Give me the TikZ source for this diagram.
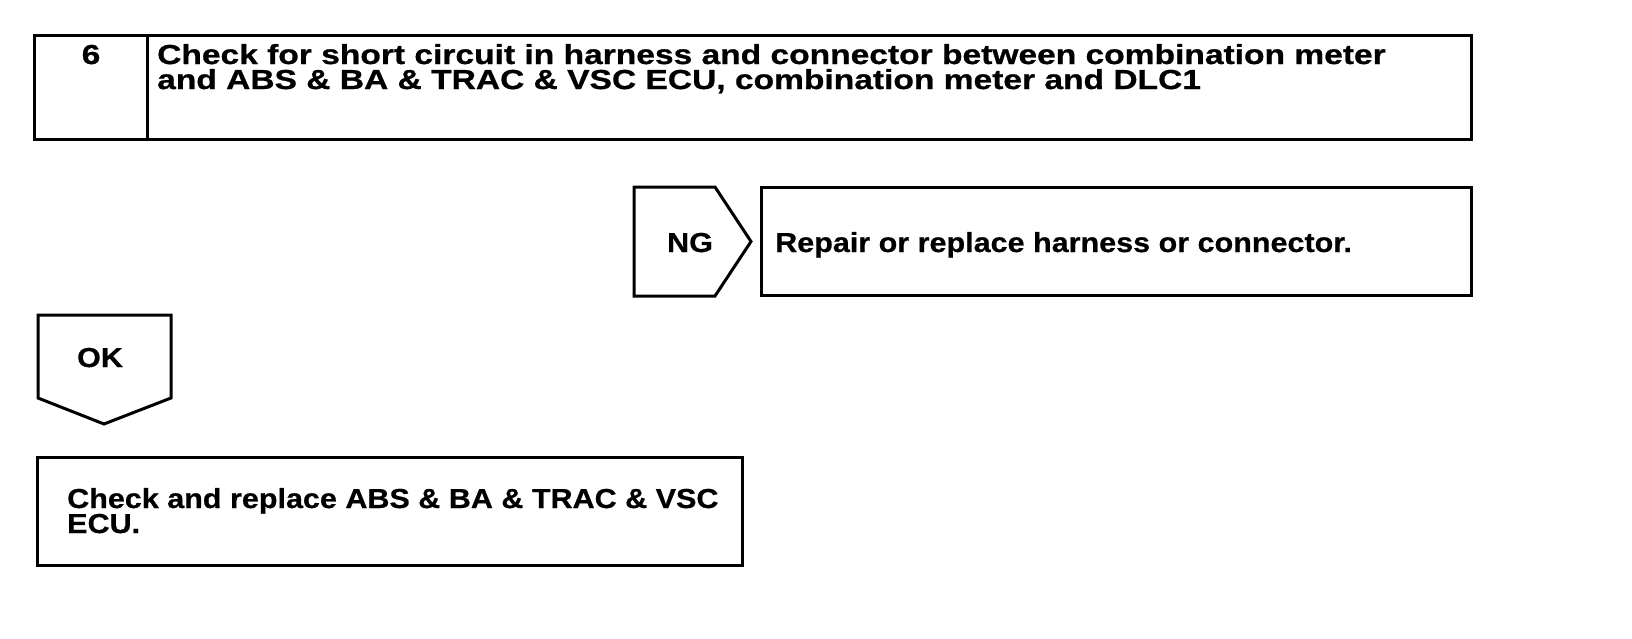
\documentclass[tikz,border=0pt]{standalone}
\usepackage{fontspec}
\setmainfont{Liberation Sans}
\newfontfamily\titlefnt[FakeStretch=1.22,FakeBold=0.8]{Liberation Sans Bold}
\newfontfamily\bodyfnt[FakeStretch=1.11,FakeBold=0.6]{Liberation Sans Bold}
\begin{document}
\begin{tikzpicture}[x=1pt,y=-1pt,
  box/.style={draw=black,line width=3pt,line join=miter},
  ttl/.style={font=\titlefnt\fontsize{27.5}{25}\selectfont,inner sep=0pt,text=black,align=left},
  lbl/.style={font=\bodyfnt\fontsize{27.5}{25}\selectfont,inner sep=0pt,text=black,align=left}]
\useasboundingbox (0,0) rectangle (1632,638);
% step box
\draw[box] (34,35) rectangle (1471,139);
\draw[box] (147,35) -- (147,139);
\node[ttl,anchor=base] (num) at (91,64) {6};
\node[ttl,anchor=base west] (title) at (157,89) {Check for short circuit in harness and connector between combination meter\\and ABS \& BA \& TRAC \& VSC ECU, combination meter and DLC1};
% NG arrow
\draw[box] (634,187) -- (715,187) -- (751,241.5) -- (715,296) -- (634,296) -- cycle;
\node[lbl,anchor=base] (ng) at (690,252) {NG};
\draw[box] (761,187) rectangle (1471,295);
\node[lbl,anchor=base west] (repair) at (775,252) {Repair or replace harness or connector.};
% OK arrow
\draw[box] (38,315) -- (171,315) -- (171,398) -- (104,424) -- (38,398) -- cycle;
\node[lbl,anchor=base] (ok) at (100,367) {OK};
% bottom box
\draw[box] (37,457) rectangle (742,565);
\node[lbl,anchor=base west] (ecu) at (67,533) {Check and replace ABS \& BA \& TRAC \& VSC\\ECU.};
\end{tikzpicture}
\end{document}
